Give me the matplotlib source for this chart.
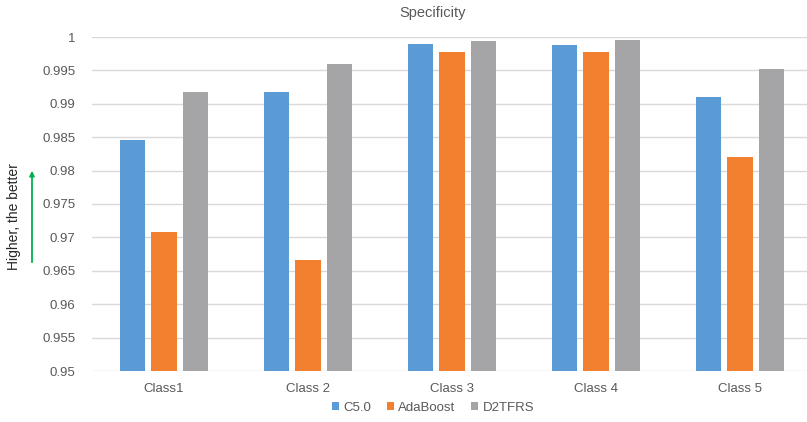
import matplotlib
matplotlib.use("Agg")
import matplotlib.pyplot as plt
import numpy as np

categories = ["Class1", "Class 2", "Class 3", "Class 4", "Class 5"]
c50 = [0.9846, 0.9918, 0.99895, 0.9988, 0.9910]
adaboost = [0.9708, 0.9666, 0.9977, 0.9978, 0.9820]
d2tfrs = [0.9918, 0.9960, 0.9994, 0.99948, 0.9952]
series_names = ["C5.0", "AdaBoost", "D2TFRS"]
colors = ["#5B9BD5", "#F2802F", "#A5A5A7"]
yticks = [0.95, 0.955, 0.96, 0.965, 0.97, 0.975, 0.98, 0.985, 0.99, 0.995, 1.0]
ytick_labels = ["0.95", "0.955", "0.96", "0.965", "0.97", "0.975", "0.98", "0.985", "0.99", "0.995", "1"]

W, H = 807, 422
fig = plt.figure(figsize=(W / 100, H / 100), dpi=100)
plt.rcParams["font.family"] = ["Liberation Sans", "DejaVu Sans"]

left, right, top, bottom = 92, 812, 37, 371
ax = fig.add_axes([left / W, 1 - bottom / H, (right - left) / W, (bottom - top) / H])

x = np.arange(len(categories))
bw = 0.174
step = 0.222
for i, (vals, name, col) in enumerate(zip([c50, adaboost, d2tfrs], series_names, colors)):
    ax.bar(x + (i - 1) * step, vals, width=bw, color=col, label=name, zorder=3)

ax.set_xlim(-0.5, len(categories) - 0.5)
ax.set_ylim(0.95, 1.0)
ax.set_yticks(yticks)
ax.set_yticklabels(ytick_labels)
ax.set_xticks(x)
ax.set_xticklabels(categories)
ax.grid(axis="y", color="#D9D9D9", linewidth=1, zorder=0)
for s in ax.spines.values():
    s.set_visible(False)
ax.tick_params(axis="both", length=0, colors="#595959", labelsize=9.5)
ax.tick_params(axis="y", pad=12)
ax.tick_params(axis="x", pad=9)

fig.text(433 / W, 1 - 13 / H, "Specificity", ha="center", va="center",
         fontsize=10.5, color="#595959")

fig.text(14 / W, 1 - 217 / H, "Higher, the better", rotation=90, ha="center",
         va="center", fontsize=10, color="#262626")
fig.add_artist(matplotlib.patches.FancyArrowPatch(
    (32 / W, 1 - 265 / H), (32 / W, 1 - 168 / H), transform=fig.transFigure,
    arrowstyle="-|>", mutation_scale=7, color="#00B050", linewidth=1.3))

leg = fig.legend(loc="center", bbox_to_anchor=(433 / W, 1 - 408 / H), ncol=3,
                 frameon=False, fontsize=9.5, handlelength=0.55, handleheight=0.55,
                 handletextpad=0.3, columnspacing=1.2)
for t in leg.get_texts():
    t.set_color("#595959")

fig.savefig("out.png", dpi=100)
